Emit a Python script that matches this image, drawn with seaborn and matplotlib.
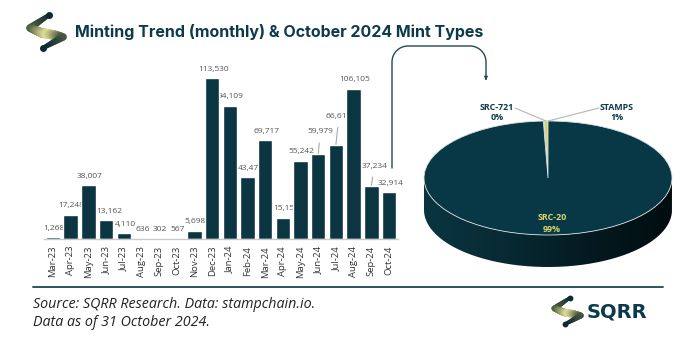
import numpy as np
import pandas as pd
import matplotlib
matplotlib.use("Agg")
import matplotlib.pyplot as plt
import seaborn as sns
from matplotlib.path import Path
from matplotlib.patches import PathPatch, FancyArrowPatch
from matplotlib.collections import LineCollection
from matplotlib.lines import Line2D
from matplotlib.colors import LinearSegmentedColormap

# ---------------- data ----------------
months = ["Mar-23", "Apr-23", "May-23", "Jun-23", "Jul-23", "Aug-23", "Sep-23",
          "Oct-23", "Nov-23", "Dec-23", "Jan-24", "Feb-24", "Mar-24", "Apr-24",
          "May-24", "Jun-24", "Jul-24", "Aug-24", "Sep-24", "Oct-24"]
mints = [1268, 17248, 38007, 13162, 4110, 636, 302, 567, 5698, 113530,
         94109, 43478, 69717, 15153, 55242, 59979, 66611, 106105, 37234, 32914]

mint_types = ["SRC-20", "STAMPS", "SRC-721"]
type_shares = [99.4, 0.5, 0.1]
type_share_labels = ["99%", "1%", "0%"]

# ---------------- styling ----------------
W, H = 689, 346
DARK = "#0b3541"
TEAL_TXT = "#0d3a4a"

sns.set_theme(style="white")
plt.rcParams["font.family"] = ["Open Sans", "DejaVu Sans"]

fig = plt.figure(figsize=(W / 100, H / 100), dpi=100)
fig.patch.set_facecolor("white")


def px(x, y):
    return (x / W, 1 - y / H)


# ---------------- bar chart ----------------
bx0, bx1 = 44.2, 397.8
base_y = 239
ymax = 120000
bar_h = 161 * ymax / 113530
axb = fig.add_axes([bx0 / W, (H - base_y) / H, (bx1 - bx0) / W, bar_h / H])
df = pd.DataFrame({"month": months, "mints": mints})
sns.barplot(data=df, x="month", y="mints", color=DARK, saturation=1,
            width=0.82, errorbar=None, ax=axb, zorder=3)
axb.set_xlim(-0.5, len(months) - 0.5)
axb.set_ylim(0, ymax)
axb.set_xlabel("")
axb.set_ylabel("")
axb.set_yticks([])
for s in ["top", "right", "left"]:
    axb.spines[s].set_visible(False)
axb.spines["bottom"].set_color("#c9c9c9")
axb.spines["bottom"].set_linewidth(1.0)
axb.spines["bottom"].set_zorder(4)
axb.tick_params(axis="x", length=0, pad=5)
for lab in axb.get_xticklabels():
    lab.set_rotation(90)
    lab.set_fontsize(6.8)
    lab.set_color("#333333")
    lab.set_ha("center")
    lab.set_va("top")

# label offsets in pixels (dx, dy above bar top)
label_offsets = {1: (0, 9), 3: (3, 9), 4: (2, 9), 11: (3, 9), 13: (3, 9),
                 15: (2, 22), 16: (3, 28), 18: (3, 20), 19: (2, 9)}
leader = {15, 16, 18}
for i, v in enumerate(mints):
    dx, dy = label_offsets.get(i, (1, 9))
    kw = {}
    if i in leader:
        kw["arrowprops"] = dict(arrowstyle="-", color="#a8a8a8", lw=0.8,
                                shrinkA=3, shrinkB=0)
    axb.annotate(f"{v:,}", xy=(i, v), xytext=(dx, dy), textcoords="offset pixels",
                 ha="center", va="center", fontsize=6.0, color="#555555",
                 zorder=2, **kw)

# ---------------- pie chart (3D look) ----------------
cx, cy = 548, 178
rx, ry = 124, 57
depth = 32 / ry
ax_l, ax_r, ax_t, ax_b = 420, 676, 117, 271
axp = fig.add_axes([ax_l / W, (H - ax_b) / H, (ax_r - ax_l) / W, (ax_b - ax_t) / H])

t = np.linspace(np.pi, 2 * np.pi, 200)
top_edge = np.column_stack([np.cos(t), np.sin(t)])
bot_edge = np.column_stack([np.cos(t[::-1]), np.sin(t[::-1]) - depth])
verts = np.vstack([top_edge, bot_edge, top_edge[:1]])
side_path = Path(verts)
side_patch = PathPatch(side_path, facecolor="none", edgecolor="none")
axp.add_patch(side_patch)
cmap = LinearSegmentedColormap.from_list("side", ["#0a3540", "#072a33", "#041a20", "#010d10"])
grad = np.linspace(0, 1, 256).reshape(1, -1)
im = axp.imshow(grad, cmap=cmap, extent=[-1, 1, -1 - depth, 0], aspect="auto",
                zorder=1)
im.set_clip_path(side_patch)

order = [1, 2, 0]  # STAMPS, SRC-721, SRC-20 counter-clockwise from top
pie_colors = {"SRC-20": "#083846", "STAMPS": "#d8d35a", "SRC-721": "#c9cccc"}
wedges, _ = axp.pie([type_shares[k] for k in order],
                    colors=[pie_colors[mint_types[k]] for k in order],
                    startangle=90, counterclock=True, radius=1, center=(0, 0),
                    wedgeprops=dict(edgecolor="#d9e0e0", linewidth=0.6),
                    frame=False)
for w in wedges:
    w.set_zorder(3)
axp.set_aspect("auto")
axp.set_xlim(-(cx - ax_l) / rx, (ax_r - cx) / rx)
axp.set_ylim(-(ax_b - cy) / ry, (cy - ax_t) / ry)
axp.axis("off")

lab_pos = {"SRC-721": (497, 107), "STAMPS": (617, 107), "SRC-20": (552, 218)}
for name, share_lab in zip(mint_types, type_share_labels):
    x, y = lab_pos[name]
    col = "#d8d66a" if name == "SRC-20" else TEAL_TXT
    fig.text(*px(x, y), name, ha="center", va="center", fontsize=6.4,
             fontweight="bold", color=col)
    fig.text(*px(x, y + 11), share_lab, ha="center", va="center", fontsize=6.4,
             fontweight="bold", color=col)
for (x0, y0), (x1, y1) in [((515, 108), (546, 121)), ((599, 108), (548, 121))]:
    fig.add_artist(Line2D([x0 / W, x1 / W], [1 - y0 / H, 1 - y1 / H],
                          color="#b5b5b5", lw=0.8))

# ---------------- connector arrow ----------------
r = 16
pts = [(392, 168), (392, 46 + r)]
th = np.linspace(np.pi, np.pi / 2, 20)
pts += [(392 + r + r * np.cos(a), 46 + r - r * np.sin(a)) for a in th]
pts += [(486 - r, 46)]
th = np.linspace(np.pi / 2, 0, 20)
pts += [(486 - r + r * np.cos(a), 46 + r - r * np.sin(a)) for a in th]
pts += [(486, 79)]
pts = np.array(pts)
fig.add_artist(Line2D(pts[:, 0] / W, 1 - pts[:, 1] / H, color="#1f4a58", lw=1.0))
fig.add_artist(FancyArrowPatch(px(486, 76), px(486, 83), arrowstyle="-|>",
                               mutation_scale=5, color="#1f4a58",
                               transform=fig.transFigure, lw=0.8))


# ---------------- title & logos ----------------
def draw_icon(x0, y0, s):
    base = [(49, 15), (30, 28), (42, 33), (54, 35), (63, 37), (43, 48)]
    p = np.array([(x0 + (x - 27) * s, y0 + (y - 10) * s) for x, y in base])
    fine = []
    for a, b in zip(p[:-1], p[1:]):
        for f in np.linspace(0, 1, 12, endpoint=False):
            fine.append(a + (b - a) * f)
    fine.append(p[-1])
    fine = np.array(fine)
    fx, fy = fine[:, 0] / W, 1 - fine[:, 1] / H
    segs = [[(fx[i], fy[i]), (fx[i + 1], fy[i + 1])] for i in range(len(fx) - 1)]
    n = len(segs)
    icm = LinearSegmentedColormap.from_list(
        "ic", ["#0d2a33", "#5e6a45", "#e3dd9a", "#5e6a45", "#0d2a33"])
    cols = [icm(i / (n - 1)) for i in range(n)]
    widths = [(3.0 + 4.0 * np.sin(np.pi * i / (n - 1))) * s for i in range(n)]
    lc = LineCollection(segs, colors=cols, linewidths=widths, capstyle="round",
                        joinstyle="round", transform=fig.transFigure)
    fig.add_artist(lc)
    for q in (p[0], p[-1]):
        fig.add_artist(Line2D([q[0] / W], [1 - q[1] / H], marker="o",
                              markersize=4.0 * s, color="#0d2a33"))


draw_icon(27, 10, 1.0)
fig.text(*px(75, 32), "Minting Trend (monthly) & October 2024 Mint Types",
         ha="left", va="center", fontsize=11.5, fontweight="bold",
         color=TEAL_TXT, family=["Inter", "DejaVu Sans"])

fig.add_artist(Line2D([33 / W, 663 / W], [1 - 287 / H, 1 - 287 / H],
                      color="#1a4656", lw=1.3))
fig.text(*px(33, 305), "Source: SQRR Research. Data: stampchain.io.",
         ha="left", va="center", fontsize=10.3, style="italic", color="#222222",
         family=["Open Sans", "DejaVu Sans"])
fig.text(*px(33, 323), "Data as of 31 October 2024.",
         ha="left", va="center", fontsize=10.3, style="italic", color="#222222",
         family=["Open Sans", "DejaVu Sans"])

draw_icon(552, 294, 0.8)
fig.text(*px(587, 312), "SQRR", ha="left", va="center", fontsize=14,
         fontweight="bold", color=TEAL_TXT, family=["DejaVu Sans"])

fig.savefig("out.png", dpi=100, facecolor="white")
